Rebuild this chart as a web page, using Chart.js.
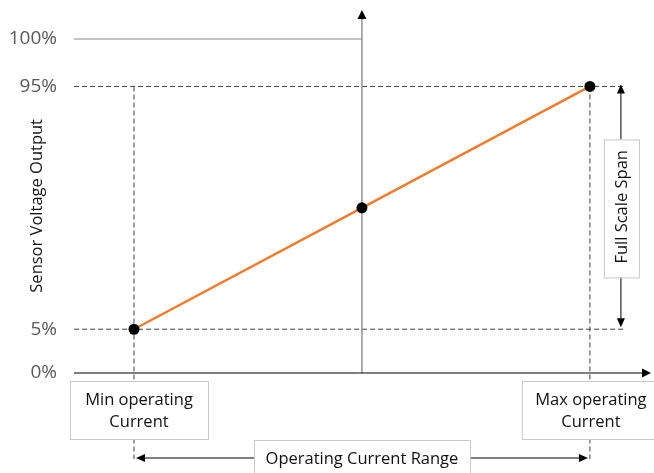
<!DOCTYPE html>
<html><head><meta charset="utf-8">
<script src="https://cdn.jsdelivr.net/npm/chart.js@4/dist/chart.umd.min.js"></script>
<style>html,body{margin:0;padding:0;background:#fff}#wrap{width:654px;height:473px}</style>
</head><body><div id="wrap"><canvas id="c" width="654" height="473"></canvas></div>
<script>
// ---- data ----
const currentPos = [0, 50, 100];        // % of operating current range (min, mid, max)
const voltageOut = [5, 50, 95];         // sensor voltage output, %
const yTickValues = [0, 5, 95, 100];
const yTickLabels = ['0%', '5%', '95%', '100%'];
const yAxisTitle = 'Sensor Voltage Output';
const minLabel = ['Min operating', 'Current'];
const maxLabel = ['Max operating', 'Current'];
const rangeLabel = 'Operating Current Range';
const spanLabel = 'Full Scale Span';

// schematic (not-to-scale) vertical mapping: percent -> axis units
const BREAKS = [[0, 0], [5, 13.1], [95, 85.8], [100, 100]];
function sy(v) {
  for (let i = 1; i < BREAKS.length; i++) {
    const [a0, b0] = BREAKS[i - 1], [a1, b1] = BREAKS[i];
    if (v <= a1 || i === BREAKS.length - 1) return b0 + (v - a0) * (b1 - b0) / (a1 - a0);
  }
}

const FONT = "'Open Sans', sans-serif";

function arrowHead(ctx, x, y, dir, len, hw, color) {
  ctx.save();
  ctx.fillStyle = color;
  ctx.beginPath();
  if (dir === 'up') { ctx.moveTo(x, y); ctx.lineTo(x - hw, y + len); ctx.lineTo(x + hw, y + len); }
  if (dir === 'down') { ctx.moveTo(x, y); ctx.lineTo(x - hw, y - len); ctx.lineTo(x + hw, y - len); }
  if (dir === 'right') { ctx.moveTo(x, y); ctx.lineTo(x - len, y - hw); ctx.lineTo(x - len, y + hw); }
  if (dir === 'left') { ctx.moveTo(x, y); ctx.lineTo(x + len, y - hw); ctx.lineTo(x + len, y + hw); }
  ctx.closePath(); ctx.fill(); ctx.restore();
}
function line(ctx, x1, y1, x2, y2, color, w, dash) {
  ctx.save(); ctx.strokeStyle = color; ctx.lineWidth = w; ctx.setLineDash(dash || []);
  ctx.beginPath(); ctx.moveTo(x1, y1); ctx.lineTo(x2, y2); ctx.stroke(); ctx.restore();
}
function box(ctx, x, y, w, h) {
  ctx.save(); ctx.fillStyle = '#fff'; ctx.fillRect(x, y, w, h);
  ctx.strokeStyle = '#c8c8c8'; ctx.lineWidth = 1; ctx.strokeRect(x + 0.5, y + 0.5, w, h); ctx.restore();
}
function text(ctx, s, x, y, rot) {
  ctx.save(); ctx.translate(x, y); if (rot) ctx.rotate(rot);
  ctx.fillStyle = '#111'; ctx.font = "16.5px " + FONT; ctx.textAlign = 'center'; ctx.textBaseline = 'middle';
  ctx.fillText(s, 0, 0); ctx.restore();
}

function geom(chart) {
  const xs = chart.scales.x, ys = chart.scales.y;
  const X = v => xs.getPixelForValue(v), Y = v => ys.getPixelForValue(sy(v));
  return { X, Y, xMin: X(currentPos[0]), xMid: X(currentPos[1]), xMax: X(currentPos[2]),
    y0: Y(0), y5: Y(voltageOut[0]), y95: Y(voltageOut[2]), y100: Y(100), area: chart.chartArea };
}

const underlay = {
  id: 'underlay',
  beforeDatasetsDraw(chart) {
    const ctx = chart.ctx, g = geom(chart), a = g.area;
    const spanX = g.xMax + 31, rangeY = g.y0 + 85;
    // 100% reference line
    line(ctx, a.left, g.y100, g.xMid, g.y100, '#8a8a8a', 1.2);
    // dashed guides
    const d = [5, 3];
    line(ctx, a.left, g.y95, spanX + 4, g.y95, '#404040', 1, d);
    line(ctx, a.left, g.y5, spanX + 3, g.y5, '#404040', 1, d);
    line(ctx, g.xMin, g.y95, g.xMin, rangeY + 1, '#404040', 1, d);
    line(ctx, g.xMax, g.y95, g.xMax, rangeY + 1, '#404040', 1, d);
    // vertical axis
    line(ctx, g.xMid, g.y0, g.xMid, a.top - 3, '#8a8a8a', 1.4);
    arrowHead(ctx, g.xMid, a.top - 10, 'up', 9, 4.5, '#000');
    // horizontal axis
    line(ctx, a.left, g.y0, a.right - 8, g.y0, '#000', 1);
    arrowHead(ctx, a.right, g.y0, 'right', 9, 4.5, '#000');
    // operating range arrow
    line(ctx, g.xMin + 8, rangeY, g.xMax - 8, rangeY, '#000', 1);
    arrowHead(ctx, g.xMin + 2, rangeY, 'left', 9, 4, '#000');
    arrowHead(ctx, g.xMax - 2, rangeY, 'right', 9, 4, '#000');
    // full scale span arrow
    line(ctx, spanX, g.y95 + 6, spanX, g.y5 - 6, '#000', 1);
    arrowHead(ctx, spanX, g.y95 - 2, 'up', 9, 4, '#000');
    arrowHead(ctx, spanX, g.y5 - 2, 'down', 9, 4, '#000');
  },
  afterDatasetsDraw(chart) {
    const ctx = chart.ctx, g = geom(chart);
    const spanX = g.xMax + 31, rangeY = g.y0 + 85;
    // y axis title
    text(ctx, yAxisTitle, 37, (g.y95 + g.y5) / 2 - 2, -Math.PI / 2);
    // min / max boxes
    box(ctx, g.xMin - 64, g.y0 + 8, 138, 58);
    text(ctx, minLabel[0], g.xMin + 5, g.y0 + 27);
    text(ctx, minLabel[1], g.xMin + 5, g.y0 + 49);
    box(ctx, g.xMax - 68, g.y0 + 8, 138, 58);
    text(ctx, maxLabel[0], g.xMax + 1, g.y0 + 27);
    text(ctx, maxLabel[1], g.xMax + 1, g.y0 + 49);
    // range box
    box(ctx, g.xMid - 108, rangeY - 18, 216, 50);
    text(ctx, rangeLabel, g.xMid, rangeY + 1);
    // span box
    box(ctx, spanX - 17, g.y95 + 53, 35, 138);
    text(ctx, spanLabel, spanX + 1, (g.y95 + g.y5) / 2 - 1, -Math.PI / 2);
  }
};

new Chart(document.getElementById('c'), {
  type: 'scatter',
  data: {
    datasets: [{
      data: currentPos.map((x, i) => ({ x, y: sy(voltageOut[i]) })),
      showLine: true,
      borderColor: '#ED7D31',
      borderWidth: 2.5,
      pointRadius: 5.5,
      pointBackgroundColor: '#000',
      pointBorderColor: '#000',
      pointBorderWidth: 0
    }]
  },
  options: {
    responsive: false,
    animation: false,
    devicePixelRatio: 1,
    layout: { autoPadding: false, padding: { top: 20, right: 3, bottom: 100, left: 0 } },
    plugins: { legend: { display: false }, tooltip: { enabled: false } },
    scales: {
      x: { type: 'linear', display: false, min: -13.16, max: 113.4 },
      y: {
        type: 'linear', min: 0, max: 105.69,
        afterFit(s) { s.width = 74; s.paddingTop = 0; s.paddingBottom = 0; },
        afterBuildTicks(s) { s.ticks = yTickValues.map(v => ({ value: sy(v) })); },
        ticks: {
          callback: (val, i) => yTickLabels[i],
          padding: 17, color: '#595959',
          font: { family: FONT, size: 19 }
        },
        grid: { display: false, drawTicks: false },
        border: { display: false }
      }
    }
  },
  plugins: [underlay]
});
</script>
</body></html>
